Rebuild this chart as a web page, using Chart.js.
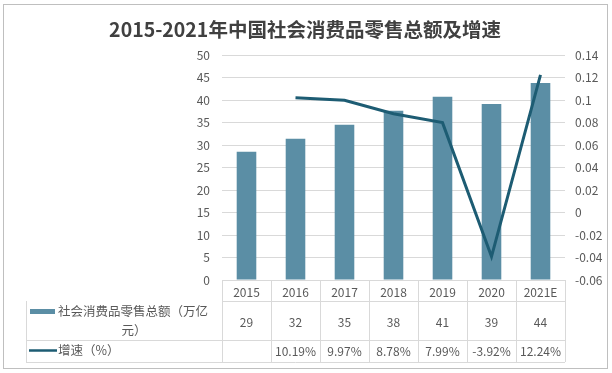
<!DOCTYPE html>
<html>
<head>
<meta charset="utf-8">
<script src="https://cdn.jsdelivr.net/npm/chart.js@4/dist/chart.umd.min.js"></script>
<style>
  html, body { margin: 0; padding: 0; background: #fff; }
  #wrap { width: 612px; height: 373px; }
</style>
</head>
<body>
<div id="wrap"><canvas id="chart" width="612" height="373"></canvas></div>
<script>
// Chart data
const years = ['2015', '2016', '2017', '2018', '2019', '2020', '2021E'];
const retailTotal = [28.5, 31.4, 34.5, 37.6, 40.7, 39.1, 43.8];   // bars, 万亿元
const retailTable = ['29', '32', '35', '38', '41', '39', '44'];
const growthRate = [null, 0.1019, 0.0997, 0.0878, 0.0799, -0.0392, 0.1224];
const growthTable = ['', '10.19%', '9.97%', '8.78%', '7.99%', '-3.92%', '12.24%'];

const titleText = '2015-2021年中国社会消费品零售总额及增速';
const barLabel = '社会消费品零售总额（万亿元）';
const lineLabel = '增速（%）';

const barColor = '#5b8ea5';
const lineColor = '#1d5c73';
const gridColor = '#d9d9d9';
const textColor = '#595959';
const FONT = '"Noto Sans CJK SC", "Noto Sans", sans-serif';

// draws title, frame and the data table under the plot
const tablePlugin = {
    id: 'dataTable',
    afterDraw(chart) {
        const ctx = chart.ctx;
        const area = chart.chartArea;
        const x = chart.scales.x;
        const colW = (area.right - area.left) / years.length;
        const tableLeft = 26;
        const rows = [area.bottom, 301, 340, 362];

        ctx.save();

        // outer frame
        ctx.strokeStyle = '#bfbfbf';
        ctx.lineWidth = 1;
        ctx.strokeRect(3.5, 4.5, 604, 364);

        // title
        ctx.fillStyle = '#404040';
        ctx.font = 'bold 19.5px ' + FONT;
        ctx.textAlign = 'center';
        ctx.textBaseline = 'middle';
        ctx.fillText(titleText, 305, 30);

        // table lines
        ctx.strokeStyle = gridColor;
        ctx.beginPath();
        ctx.moveTo(area.left, Math.round(rows[0]) + 0.5);
        ctx.lineTo(area.right, Math.round(rows[0]) + 0.5);
        for (let i = 1; i < rows.length; i++) {
            ctx.moveTo(i === 1 ? area.left : tableLeft, rows[i] + 0.5);
            ctx.lineTo(area.right, rows[i] + 0.5);
        }
        for (let i = 0; i <= years.length; i++) {
            const cx = Math.round(area.left + colW * i) + 0.5;
            ctx.moveTo(cx, rows[0]);
            ctx.lineTo(cx, rows[3]);
        }
        ctx.moveTo(tableLeft + 0.5, rows[1]);
        ctx.lineTo(tableLeft + 0.5, rows[3]);
        ctx.stroke();

        // cell text
        ctx.fillStyle = textColor;
        ctx.font = '12px ' + FONT;
        ctx.textAlign = 'center';
        years.forEach((y, i) => {
            const cx = x.getPixelForValue(i);
            ctx.fillText(y, cx, 292);
            ctx.fillText(retailTable[i], cx, 322);
            if (growthTable[i]) ctx.fillText(growthTable[i], cx, 351);
        });

        // legend keys
        ctx.fillStyle = barColor;
        ctx.fillRect(30, 309, 25, 5);
        ctx.strokeStyle = lineColor;
        ctx.lineWidth = 2.5;
        ctx.beginPath();
        ctx.moveTo(29, 350.5);
        ctx.lineTo(57, 350.5);
        ctx.stroke();

        ctx.fillStyle = textColor;
        ctx.font = '12.5px ' + FONT;
        ctx.textAlign = 'left';
        ctx.fillText('社会消费品零售总额（万亿', 58, 311);
        ctx.textAlign = 'center';
        ctx.fillText('元）', 134, 330);
        ctx.textAlign = 'left';
        ctx.fillText(lineLabel, 58, 350);

        ctx.restore();
    }
};

new Chart(document.getElementById('chart'), {
    data: {
        labels: years,
        datasets: [
            {
                type: 'line',
                label: lineLabel,
                data: growthRate,
                yAxisID: 'y1',
                borderColor: lineColor,
                backgroundColor: lineColor,
                borderWidth: 3,
                pointRadius: 0,
                tension: 0,
                order: 0
            },
            {
                type: 'bar',
                label: barLabel,
                data: retailTotal,
                yAxisID: 'y',
                backgroundColor: barColor,
                categoryPercentage: 0.8,
                barPercentage: 0.5,
                order: 1
            }
        ]
    },
    options: {
        responsive: false,
        animation: false,
        layout: { padding: { top: 55, bottom: 93, left: 0, right: 0 } },
        plugins: {
            legend: { display: false },
            title: { display: false },
            tooltip: { enabled: false }
        },
        scales: {
            x: { display: false },
            y: {
                position: 'left',
                min: 0,
                max: 50,
                ticks: { stepSize: 5, padding: 12, color: textColor, font: { family: FONT, size: 12 } },
                grid: { color: gridColor, drawTicks: false },
                border: { display: false },
                afterFit(scale) { scale.width = 222; }
            },
            y1: {
                position: 'right',
                min: -0.06,
                max: 0.14,
                ticks: {
                    stepSize: 0.02,
                    padding: 10,
                    color: textColor,
                    font: { family: FONT, size: 12 },
                    callback: v => String(Number(v.toFixed(2)))
                },
                grid: { display: false, drawTicks: false },
                border: { display: false },
                afterFit(scale) { scale.width = 47; }
            }
        }
    },
    plugins: [tablePlugin]
});
</script>
</body>
</html>
